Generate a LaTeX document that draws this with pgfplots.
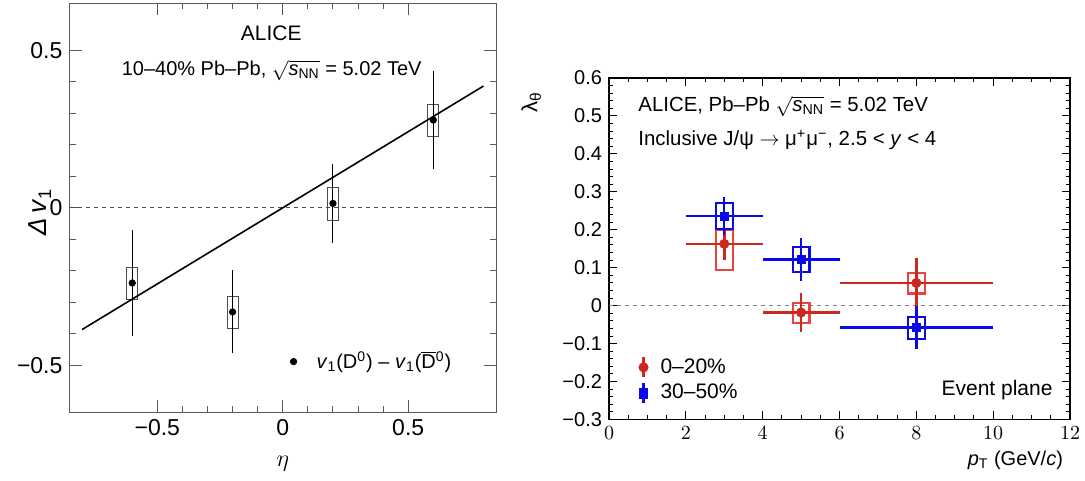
\documentclass[border=0pt]{standalone}
\usepackage{fontspec}
\setmainfont{Liberation Sans}
\usepackage{pgfplots}
\pgfplotsset{compat=1.18}

\definecolor{rootred}{RGB}{205,40,30}
\definecolor{boxred}{RGB}{236,68,58}
\definecolor{rootblue}{RGB}{10,10,232}

\newcommand{\sqrts}{$\sqrt{\mbox{\textit{s}\textsubscript{NN}}}$}

\begin{document}
\begin{tikzpicture}
\path[use as bounding box] (0,0) rectangle (542.5pt,240.5pt);

% left panel: Delta v1 vs eta
\begin{axis}[
  at={(34.75pt,34.35pt)}, anchor=south west,
  scale only axis, width=213.25pt, height=204.5pt,
  xmin=-0.85, xmax=0.85, ymin=-0.65, ymax=0.65,
  xtick={-0.5,0,0.5}, xticklabels={−0.5,0,0.5},
  ytick={-0.5,0,0.5}, yticklabels={−0.5,0,0.5},
  minor x tick num=4, minor y tick num=4,
  tick align=inside, major tick length=6pt, minor tick length=3pt,
  axis line style={black!65, line width=0.5pt},
  tick style={black!65, line width=0.5pt},
  tick label style={font=\fontsize{11.5}{13}\selectfont},
  xlabel={$\eta$}, ylabel={\textit{Δ\,v}\textsubscript{1}},
  label style={font=\fontsize{13}{15}\selectfont},
  xlabel style={at={(axis description cs:0.5,-0.125)}, anchor=center},
  ylabel style={at={(axis description cs:-0.069,0.49)}, anchor=center},
  legend style={at={(axis description cs:0.515,0.124)}, anchor=west,
    draw=none, fill=none, inner sep=0pt, nodes={inner sep=1.5pt},
    font=\fontsize{10}{12}\selectfont},
]
\addplot[black!70, line width=0.4pt, dash pattern=on 2pt off 2pt, forget plot]
  coordinates {(-0.85,0) (0.85,0)};
% systematic boxes
\addplot[black!70, line width=0.4pt, forget plot] coordinates {(-0.622,-0.291) (-0.578,-0.291) (-0.578,-0.188) (-0.622,-0.188)} --cycle;
\addplot[black!70, line width=0.4pt, forget plot] coordinates {(-0.222,-0.384) (-0.178,-0.384) (-0.178,-0.281) (-0.222,-0.281)} --cycle;
\addplot[black!70, line width=0.4pt, forget plot] coordinates {(0.178,-0.039) (0.222,-0.039) (0.222,0.065) (0.178,0.065)} --cycle;
\addplot[black!70, line width=0.4pt, forget plot] coordinates {(0.578,0.228) (0.622,0.228) (0.622,0.330) (0.578,0.330)} --cycle;
% linear fit
\addplot[black, line width=0.8pt, forget plot] coordinates {(-0.8,-0.387) (0.8,0.387)};
% data
\addplot[black, only marks, mark=*, mark size=1.6pt,
  legend image code/.code={
    \path[draw=none, fill=none] (-2pt,0pt) -- (10pt,0pt);
    \fill[black] (0pt,0pt) circle (1.6pt);},
  error bars/.cd, y dir=both, y explicit, error mark=none,
  error bar style={black, line width=0.5pt}] coordinates {
  (-0.6,-0.239) +- (0,0.167)
  (-0.2,-0.331) +- (0,0.132)
  (0.2,0.014)   +- (0,0.125)
  (0.6,0.279)   +- (0,0.155)
};
\addlegendentry{\textit{v}\textsubscript{1}(D\textsuperscript{0}) – \textit{v}\textsubscript{1}($\overline{\mbox{D}}$\textsuperscript{0})}
\node[inner sep=0pt, font=\fontsize{10.5}{12}\selectfont] at (rel axis cs:0.473,0.927) {ALICE};
\node[inner sep=0pt, font=\fontsize{10}{12}\selectfont] at (rel axis cs:0.474,0.835) {10–40\% Pb–Pb, \sqrts{} = 5.02 TeV};
\end{axis}

% right panel: lambda_theta vs pT
\begin{axis}[
  at={(304.5pt,30.75pt)}, anchor=south west,
  scale only axis, width=230.5pt, height=170.75pt,
  xmin=0, xmax=12, ymin=-0.3, ymax=0.6,
  xtick={0,2,4,6,8,10,12},
  ytick={-0.3,-0.2,-0.1,0,0.1,0.2,0.3,0.4,0.5,0.6},
  yticklabels={−0.3,−0.2,−0.1,0,0.1,0.2,0.3,0.4,0.5,0.6},
  minor x tick num=3, minor y tick num=4,
  tick align=inside, major tick length=4pt, minor tick length=2pt,
  axis line style={black, line width=0.6pt},
  tick style={black, line width=0.5pt},
  tick label style={font=\fontsize{10}{12}\selectfont},
  xlabel={\textit{p}\textsubscript{T} (GeV/\textit{c})},
  xlabel style={at={(axis description cs:1,-0.119)}, anchor=east, font=\fontsize{10}{12}\selectfont},
  ylabel={λ\textsubscript{θ}},
  ylabel style={at={(axis description cs:-0.132,0.98)}, anchor=south east, font=\fontsize{11}{12}\selectfont},
  legend style={at={(axis description cs:0.061,0.115)}, anchor=west,
    draw=none, fill=none, inner sep=0pt, font=\fontsize{10.5}{12}\selectfont,
    nodes={inner sep=1.5pt}, row sep=1pt, legend cell align=left},
]
\addplot[gray, line width=0.4pt, dash pattern=on 2pt off 2pt, forget plot]
  coordinates {(0,0) (12,0)};
% red systematic boxes
\addplot[boxred, line width=1.1pt, forget plot] coordinates {(2.78,0.095) (3.22,0.095) (3.22,0.200) (2.78,0.200)} --cycle;
\addplot[boxred, line width=1.1pt, forget plot] coordinates {(4.78,-0.045) (5.22,-0.045) (5.22,0.006) (4.78,0.006)} --cycle;
\addplot[boxred, line width=1.1pt, forget plot] coordinates {(7.78,0.032) (8.22,0.032) (8.22,0.086) (7.78,0.086)} --cycle;
% 0-20%
\addplot[rootred, only marks, mark=*, mark size=2.3pt,
  legend image code/.code={
    \path[draw=none, fill=none] (-3pt,0pt) -- (7pt,0pt);
    \draw[rootred, line width=1.2pt] (0pt,-5pt) -- (0pt,5pt);
    \fill[rootred] (0pt,0pt) circle (2.3pt);},
  error bars/.cd, x dir=both, x explicit, y dir=both, y explicit, error mark=none,
  error bar style={rootred, line width=1.3pt}] coordinates {
  (3,0.163)  +- (1,0.042)
  (5,-0.018) +- (1,0.051)
  (8,0.060)  +- (2,0.066)
};
\addlegendentry{0–20\%}
% blue systematic boxes
\addplot[rootblue, line width=1.1pt, forget plot] coordinates {(2.78,0.203) (3.22,0.203) (3.22,0.270) (2.78,0.270)} --cycle;
\addplot[rootblue, line width=1.1pt, forget plot] coordinates {(4.78,0.089) (5.22,0.089) (5.22,0.155) (4.78,0.155)} --cycle;
\addplot[rootblue, line width=1.1pt, forget plot] coordinates {(7.78,-0.088) (8.22,-0.088) (8.22,-0.029) (7.78,-0.029)} --cycle;
% 30-50%
\addplot[rootblue, only marks, mark=square*, mark size=2pt,
  legend image code/.code={
    \path[draw=none, fill=none] (-3pt,0pt) -- (7pt,0pt);
    \draw[rootblue, line width=1.2pt] (0pt,-5pt) -- (0pt,5pt);
    \fill[rootblue] (-2pt,-2.5pt) rectangle (2pt,2.5pt);},
  error bars/.cd, x dir=both, x explicit, y dir=both, y explicit, error mark=none,
  error bar style={rootblue, line width=1.2pt}] coordinates {
  (3,0.236)  +- (1,0.051)
  (5,0.122)  +- (1,0.057)
  (8,-0.058) +- (2,0.057)
};
\addlegendentry{30–50\%}
\node[anchor=west, inner sep=0pt, font=\fontsize{10.2}{12}\selectfont] at (rel axis cs:0.063,0.916) {ALICE, Pb–Pb \sqrts{} = 5.02 TeV};
\node[anchor=west, inner sep=0pt, font=\fontsize{10.2}{12}\selectfont] at (rel axis cs:0.063,0.818) {Inclusive J/ψ $\rightarrow$ μ\textsuperscript{+}μ\textsuperscript{−}, 2.5 < \textit{y} < 4};
\node[anchor=east, inner sep=0pt, font=\fontsize{10.5}{12}\selectfont] at (rel axis cs:0.963,0.086) {Event plane};
\end{axis}
\end{tikzpicture}
\end{document}
